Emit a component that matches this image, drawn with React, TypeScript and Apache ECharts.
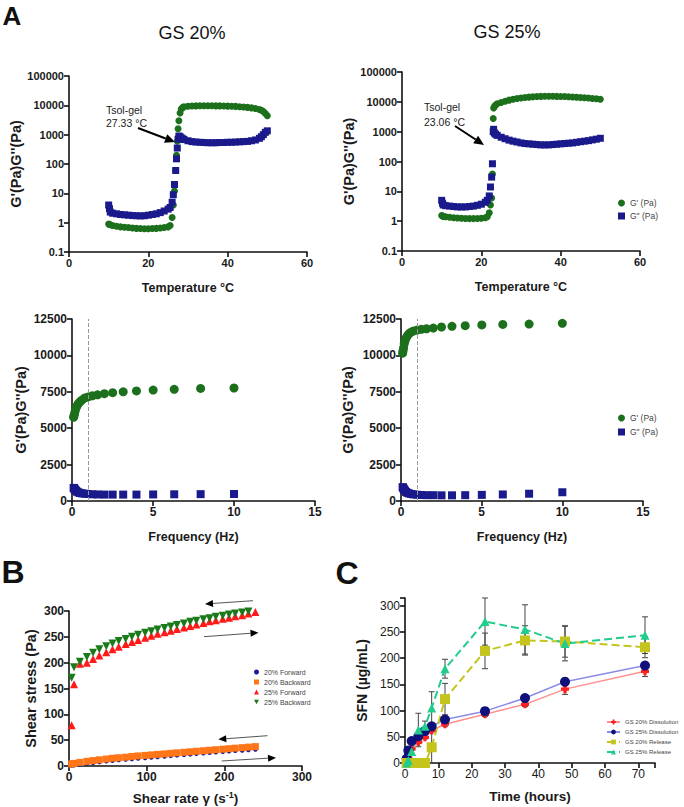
import React, { useEffect, useRef } from 'react';
import * as echarts from 'echarts';

const FONT = '"Liberation Sans", Arial, sans-serif';
const GREEN = '#1c701c';
const NAVY = '#1a1a8c';

// ---- Panel A (temperature sweep) ----
const tempA20 = [10, 10.2, 10.4, 11, 12, 13, 14, 15, 16, 17, 18, 19, 20, 21, 22, 23, 24, 25, 25.5, 26, 26.3, 26.6, 26.9, 27.1, 27.3, 27.5, 27.7, 28, 28.3, 28.7, 29, 30, 31, 32, 33, 34, 35, 36, 37, 38, 39, 40, 41, 42, 43, 44, 45, 46, 47, 48, 48.5, 49, 49.5, 50];
const gp20 = [0.9, 0.87, 0.85, 0.8, 0.76, 0.72, 0.7, 0.68, 0.66, 0.64, 0.63, 0.62, 0.62, 0.63, 0.64, 0.66, 0.68, 0.72, 0.8, 1.5, 4, 12, 60, 200, 600, 1600, 3000, 5500, 7500, 8500, 9000, 9300, 9500, 9600, 9700, 9700, 9700, 9700, 9600, 9600, 9500, 9400, 9300, 9200, 9000, 8800, 8500, 8200, 7800, 7200, 6800, 6200, 5300, 4400];
const gpp20 = [4, 3, 2.3, 2.1, 2.0, 1.9, 1.85, 1.8, 1.75, 1.72, 1.7, 1.72, 1.8, 1.9, 2.0, 2.2, 2.5, 2.9, 3.3, 5, 9, 20, 60, 150, 350, 700, 900, 850, 780, 720, 680, 620, 580, 560, 550, 540, 530, 530, 530, 540, 540, 550, 550, 560, 570, 580, 590, 620, 660, 750, 850, 1000, 1200, 1350];

const tempA25 = [10, 10.2, 10.4, 11, 12, 13, 14, 15, 16, 17, 18, 19, 20, 21, 21.5, 22, 22.3, 22.6, 22.8, 23, 23.1, 23.3, 23.6, 24, 25, 26, 27, 28, 29, 30, 31, 32, 33, 34, 35, 36, 37, 38, 39, 40, 41, 42, 43, 44, 45, 46, 47, 48, 49, 50];
const gp25 = [1.55, 1.5, 1.45, 1.4, 1.35, 1.3, 1.27, 1.25, 1.23, 1.22, 1.22, 1.23, 1.25, 1.3, 1.4, 1.9, 3.5, 6, 38, 2750, 6200, 7000, 7800, 8600, 9500, 10500, 11400, 12200, 12900, 13500, 14000, 14400, 14700, 15000, 15200, 15300, 15300, 15300, 15200, 15100, 15000, 14800, 14600, 14300, 14000, 13700, 13400, 13000, 12600, 12200];
const gpp25 = [5, 4, 3.5, 3.3, 3.2, 3.1, 3.0, 3.0, 3.0, 3.1, 3.2, 3.4, 3.7, 4.3, 5, 7, 14, 30, 84, 1000, 1200, 900, 820, 750, 650, 580, 520, 480, 450, 420, 400, 390, 380, 370, 360, 360, 360, 370, 380, 390, 400, 410, 420, 440, 460, 480, 500, 530, 560, 600];

// ---- Panel A (frequency sweep) ----
const freqs = [0.1, 0.126, 0.158, 0.2, 0.251, 0.316, 0.398, 0.501, 0.631, 0.794, 1, 1.26, 1.58, 2, 2.51, 3.16, 3.98, 5.01, 6.31, 7.94, 10];
const fGp20 = [5750, 5850, 6000, 6200, 6400, 6550, 6700, 6820, 6950, 7080, 7150, 7230, 7290, 7370, 7440, 7500, 7560, 7620, 7670, 7730, 7760];
const fGpp20 = [900, 880, 820, 760, 700, 640, 590, 550, 520, 500, 480, 460, 450, 440, 440, 440, 440, 450, 460, 470, 480];
const fGp25 = [10150, 10300, 10500, 10800, 11000, 11200, 11350, 11500, 11600, 11680, 11740, 11790, 11830, 11880, 11950, 12000, 12040, 12090, 12130, 12150, 12200];
const fGpp25 = [950, 920, 850, 780, 700, 620, 560, 520, 480, 450, 430, 410, 400, 400, 390, 390, 400, 420, 450, 500, 600];

// ---- Panel B ----
const shearB = [3.4, 6.4, 14, 23, 31, 39, 48, 56, 64, 73, 81, 89, 98, 106, 114, 123, 131, 139, 148, 156, 164, 173, 181, 189, 198, 206, 214, 223, 231, 240];
const fwd20 = [1, 1.5, 3, 4.5, 6, 7.5, 9, 10, 11.5, 12.5, 13.5, 14.5, 15.5, 16.5, 17.5, 18.5, 19.5, 20.5, 21.5, 22.5, 23.5, 24.5, 25.5, 26.5, 27.5, 28.5, 29.5, 30, 31, 32];
const bwd20 = [4, 5, 7, 9, 10.5, 12, 13.5, 15, 16, 17, 18.5, 19.5, 20.5, 21.5, 22.5, 23.5, 24.5, 25.5, 26.5, 27.5, 28.5, 29.5, 30.5, 31.5, 32.5, 33.5, 34.5, 35.5, 36.5, 37.5];
const fwd25 = [79, 158, 198, 200, 207, 214, 220, 226, 231, 236, 240, 244, 248, 252, 256, 259, 262, 265, 268, 271, 274, 277, 280, 282, 285, 287, 290, 292, 295, 298];
const bwd25 = [171, 191, 202, 211, 219, 226, 232, 237, 242, 246, 250, 254, 258, 261, 264, 267, 270, 273, 276, 279, 281, 284, 286, 289, 291, 293, 295, 297, 299];

// ---- Panel C ----
const timesC = [0.5, 1, 2, 4, 6, 8, 12, 24, 36, 48, 72];
const dis20 = [6, 10, 27, 40, 49, 62, 74, 93, 112, 141, 175];
const dis20Err = [2, 3, 3, 3, 3, 3, 4, 4, 4, 10, 10];
const dis25 = [8, 24, 42, 51, 61, 70, 83, 99, 124, 155, 186];
const dis25Err = [2, 3, 3, 3, 3, 3, 4, 4, 5, 7, 5];
const rel20 = [0, 0, 0, 0, 0, 30, 122, 214, 234, 232, 221];
const rel20Err = [0, 0, 0, 0, 0, 30, 30, 34, 28, 30, 20];
const rel25 = [0, 5, 22, 63, 70, 105, 180, 270, 255, 228, 244];
const rel25Err = [0, 0, 5, 32, 10, 31, 18, 45, 47, 33, 35];

const zip = (xs: number[], ys: number[]) => ys.map((y, i) => [xs[i], y]);

const axLine = { show: true, onZero: false, lineStyle: { color: '#111', width: 1.6 } };
const axTick = { show: true, length: 5, inside: false, lineStyle: { color: '#111', width: 1.6 } };
const plain = (v: number) => String(v);
const lbl = (size: number, bold = true) => ({ color: '#1a1a1a', fontFamily: FONT, fontSize: size, fontWeight: bold ? 'bold' : 'normal', margin: 5, formatter: plain });
const nameStyle = (size: number) => ({ color: '#1a1a1a', fontFamily: FONT, fontSize: size, fontWeight: 'bold' });

function xAxisCfg(gridIndex: number, min: number, max: number, interval: number, name: string, nameGap: number, lsize: number, bold = true, nsize = 12.5, extra: any = {}) {
  return {
    type: 'value', gridIndex, min, max, interval, name, nameLocation: 'middle', nameGap,
    nameTextStyle: nameStyle(nsize), axisLine: axLine, axisTick: axTick, splitLine: { show: false },
    axisLabel: { ...lbl(lsize, bold), ...(extra.axisLabel || {}) },
  };
}

function arrow(x1: number, y1: number, x2: number, y2: number, color: string, w: number, hl: number, hw: number, lineColor?: string) {
  const dx = x2 - x1, dy = y2 - y1, L = Math.hypot(dx, dy), ux = dx / L, uy = dy / L;
  const bx = x2 - ux * hl, by = y2 - uy * hl;
  return [
    { type: 'line', silent: true, shape: { x1, y1, x2: bx, y2: by }, style: { stroke: lineColor || color, lineWidth: w } },
    { type: 'polygon', silent: true, shape: { points: [[x2, y2], [bx - uy * hw, by + ux * hw], [bx + uy * hw, by - ux * hw]] }, style: { fill: color } },
  ];
}

const txt = (text: string, x: number, y: number, font: string, align = 'center', fill = '#111') => ({
  type: 'text', silent: true, x, y, style: { text, font, fill, textAlign: align, textVerticalAlign: 'middle' },
});

function errSeries(times: number[], vals: number[], errs: number[]) {
  return {
    type: 'custom', xAxisIndex: 5, yAxisIndex: 5, z: 1, silent: true,
    encode: { x: 0, y: [1, 2] },
    data: times.map((t, i) => [t, vals[i] - errs[i], vals[i] + errs[i]]),
    renderItem: (params: any, api: any) => {
      const x = api.value(0), lo = api.value(1), hi = api.value(2);
      if (!(hi - lo > 0)) return { type: 'group', children: [] };
      const p1 = api.coord([x, lo]), p2 = api.coord([x, hi]);
      const w = 3;
      const st = { stroke: '#444', lineWidth: 1 };
      return {
        type: 'group', children: [
          { type: 'line', shape: { x1: p1[0], y1: p1[1], x2: p2[0], y2: p2[1] }, style: st },
          { type: 'line', shape: { x1: p1[0] - w, y1: p1[1], x2: p1[0] + w, y2: p1[1] }, style: st },
          { type: 'line', shape: { x1: p2[0] - w, y1: p2[1], x2: p2[0] + w, y2: p2[1] }, style: st },
        ],
      };
    },
  };
}

const PLUS = 'path://M3,0H7V3H10V7H7V10H3V7H0V3H3Z';
const INV_TRI = 'path://M0,0L10,0L5,9Z';

function buildOption() {
  const logLabel = { ...lbl(11), formatter: (v: number) => (v < 1 ? '0.1' : String(Math.round(v))) };
  const GNAME = "G'(Pa)G''(Pa)";
  const xAxes = [
    xAxisCfg(0, 0, 60, 20, 'Temperature °C', 29, 11),
    xAxisCfg(1, 0, 60, 20, 'Temperature °C', 29, 11),
    xAxisCfg(2, 0, 15, 5, 'Frequency (Hz)', 29, 12),
    xAxisCfg(3, 0, 15, 5, 'Frequency (Hz)', 29, 12),
    { ...xAxisCfg(4, 0, 300, 100, 'Shear rate γ (s{sup|-1})', 24, 12, true, 13.5),
      nameTextStyle: { ...nameStyle(13.5), rich: { sup: { fontFamily: FONT, fontSize: 9, fontWeight: 'bold', color: '#1a1a1a', verticalAlign: 'top', padding: [0, 0, 8, 0] } } } },
    xAxisCfg(5, 0, 75, 10, 'Time (hours)', 26, 12, false, 13.5, { axisLabel: { formatter: (v: number) => (v > 70 ? '' : String(v)) } }),
  ];
  const yAxes = [
    { type: 'log', logBase: 10, gridIndex: 0, min: 0.1, max: 100000, name: GNAME, nameLocation: 'middle', nameGap: 43, nameTextStyle: nameStyle(14.5), axisLine: axLine, axisTick: axTick, splitLine: { show: false }, axisLabel: logLabel },
    { type: 'log', logBase: 10, gridIndex: 1, min: 0.1, max: 100000, name: GNAME, nameLocation: 'middle', nameGap: 43, nameTextStyle: nameStyle(14.5), axisLine: axLine, axisTick: axTick, splitLine: { show: false }, axisLabel: logLabel },
    { type: 'value', gridIndex: 2, min: 0, max: 12500, interval: 2500, name: GNAME, nameLocation: 'middle', nameGap: 44, nameTextStyle: nameStyle(14.5), axisLine: axLine, axisTick: axTick, splitLine: { show: false }, axisLabel: lbl(12) },
    { type: 'value', gridIndex: 3, min: 0, max: 12500, interval: 2500, name: GNAME, nameLocation: 'middle', nameGap: 46, nameTextStyle: nameStyle(14.5), axisLine: axLine, axisTick: axTick, splitLine: { show: false }, axisLabel: lbl(12) },
    { type: 'value', gridIndex: 4, min: 0, max: 300, interval: 50, name: 'Shear stress (Pa)', nameLocation: 'middle', nameGap: 31, nameTextStyle: nameStyle(14.5), axisLine: axLine, axisTick: axTick, splitLine: { show: false }, axisLabel: lbl(12) },
    { type: 'value', gridIndex: 5, min: 0, max: 315, interval: 50, name: 'SFN (µg/mL)', nameLocation: 'middle', nameGap: 36, nameTextStyle: nameStyle(14), axisLine: axLine, axisTick: axTick, splitLine: { show: false }, axisLabel: { ...lbl(12, false), formatter: (v: number) => (v > 300 ? '' : String(v)) } },
  ];
  const grids = [
    { left: 69, top: 76, width: 238, height: 176 },
    { left: 402, top: 72, width: 238, height: 179 },
    { left: 72, top: 319, width: 243, height: 182 },
    { left: 401, top: 319, width: 242, height: 182 },
    { left: 69, top: 611, width: 233, height: 155 },
    { left: 405, top: 598, width: 250, height: 165 },
  ];
  const sc = (name: string, idx: number, xs: number[], ys: number[], symbol: string, size: number, color: string, extra: any = {}) => ({
    type: 'scatter', name, xAxisIndex: idx, yAxisIndex: idx, data: zip(xs, ys), symbol, symbolSize: size,
    itemStyle: { color, opacity: 1 }, ...extra,
  });
  const vline = { markLine: { silent: true, symbol: 'none', label: { show: false }, lineStyle: { color: '#999', type: 'dashed', width: 1 }, data: [{ xAxis: 1 }] } };
  const GP = "G' (Pa)", GPP = 'G" (Pa)';
  const series: any[] = [
    sc(GP, 0, tempA20, gp20, 'circle', 7, GREEN),
    sc(GPP, 0, tempA20, gpp20, 'rect', 7, NAVY),
    sc(GP, 1, tempA25, gp25, 'circle', 7, GREEN),
    sc(GPP, 1, tempA25, gpp25, 'rect', 7, NAVY),
    sc(GP, 2, freqs, fGp20, 'circle', 9, GREEN, vline),
    sc(GPP, 2, freqs, fGpp20, 'rect', 8, NAVY),
    sc(GP, 3, freqs, fGp25, 'circle', 9, GREEN, vline),
    sc(GPP, 3, freqs, fGpp25, 'rect', 8, NAVY),
    sc('20% Forward', 4, shearB, fwd20, 'circle', 4.5, '#1a1a9a'),
    sc('20% Backward', 4, shearB, bwd20, 'rect', 7, '#ff7518'),
    sc('25% Forward', 4, shearB, fwd25, 'triangle', 8, '#ff1a1a'),
    sc('25% Backward', 4, shearB, bwd25, INV_TRI, 8, '#1a7a1a'),
    errSeries(timesC, dis20, dis20Err),
    errSeries(timesC, dis25, dis25Err),
    errSeries(timesC, rel20, rel20Err),
    errSeries(timesC, rel25, rel25Err),
    { type: 'line', name: 'GS 20% Dissolution', xAxisIndex: 5, yAxisIndex: 5, z: 3, data: zip(timesC, dis20), symbol: PLUS, symbolSize: 8, showAllSymbol: true, itemStyle: { color: '#ff1f1f' }, lineStyle: { color: '#ff8f8f', width: 1.5 } },
    { type: 'line', name: 'GS 25% Dissolution', xAxisIndex: 5, yAxisIndex: 5, z: 3, data: zip(timesC, dis25), symbol: 'circle', symbolSize: 10, showAllSymbol: true, itemStyle: { color: '#10107a' }, lineStyle: { color: '#8c8ce6', width: 1.5 } },
    { type: 'line', name: 'GS 20% Release', xAxisIndex: 5, yAxisIndex: 5, z: 3, data: zip(timesC, rel20), symbol: 'rect', symbolSize: 10, showAllSymbol: true, itemStyle: { color: '#c4c41c' }, lineStyle: { color: '#c4c41c', width: 2, type: 'dashed' } },
    { type: 'line', name: 'GS 25% Release', xAxisIndex: 5, yAxisIndex: 5, z: 3, data: zip(timesC, rel25), symbol: 'triangle', symbolSize: 9, showAllSymbol: true, itemStyle: { color: '#22cc8a' }, lineStyle: { color: '#22cc8a', width: 2, type: 'dashed' } },
  ];
  const legText = (size: number) => ({ fontFamily: FONT, fontSize: size, color: '#444', lineHeight: 10 });
  const legends = [
    { data: [GP, GPP], orient: 'vertical', left: 613, top: 193, itemWidth: 7, itemHeight: 7, itemGap: 3, textStyle: legText(8.5), selectedMode: false },
    { data: [GP, GPP], orient: 'vertical', left: 613, top: 408, itemWidth: 7, itemHeight: 7, itemGap: 4, textStyle: legText(8.5), selectedMode: false },
    { data: ['20% Forward', '20% Backward', '25% Forward', '25% Backward'], orient: 'vertical', left: 249, top: 662, itemWidth: 5, itemHeight: 5, itemGap: 0, textStyle: legText(7), selectedMode: false },
    { data: ['GS 20% Dissolution', 'GS 25% Dissolution', 'GS 20% Release', 'GS 25% Release'], orient: 'vertical', left: 606, top: 717, width: 78, itemWidth: 13, itemHeight: 6, itemGap: 0, padding: 0, textStyle: { ...legText(6), width: 60, overflow: 'none' }, selectedMode: false },
  ];
  const graphic: any[] = [
    txt('A', 12, 16, `bold 26px ${FONT}`),
    txt('GS 20%', 192, 33, `18px ${FONT}`),
    txt('GS 25%', 507, 32, `18px ${FONT}`),
    txt('Tsol-gel', 106, 110, `10.5px ${FONT}`, 'left', '#222'),
    txt('27.33 °C', 106, 123, `10.5px ${FONT}`, 'left', '#222'),
    txt('Tsol-gel', 424, 107, `10.5px ${FONT}`, 'left', '#222'),
    txt('23.06 °C', 424, 122, `10.5px ${FONT}`, 'left', '#222'),
    txt('B', 13, 572, `bold 32px ${FONT}`),
    txt('C', 347, 573, `bold 32px ${FONT}`),
    ...arrow(138, 128, 175, 142, '#000', 2, 10, 4.5),
    ...arrow(455, 126, 484, 145, '#000', 2, 10, 4.5),
    ...arrow(253, 600.7, 205, 604, '#000', 1, 8, 3.5, '#555'),
    ...arrow(204, 636.7, 258.5, 632.7, '#000', 1, 8, 3.5, '#555'),
    ...arrow(267.5, 735.7, 218.3, 739.3, '#000', 1, 8, 3.5, '#555'),
    ...arrow(221.7, 761, 276, 757.7, '#000', 1, 8, 3.5, '#555'),
  ];
  return {
    animation: false,
    backgroundColor: '#ffffff',
    grid: grids,
    xAxis: xAxes,
    yAxis: yAxes,
    legend: legends,
    series,
    graphic,
  };
}

export default function App() {
  const ref = useRef<HTMLDivElement>(null);
  useEffect(() => {
    const chart = echarts.init(ref.current as HTMLDivElement, null, { renderer: 'svg' });
    chart.setOption(buildOption() as any);
    return () => chart.dispose();
  }, []);
  return <div ref={ref} style={{ position: 'absolute', left: 0, top: 0, width: 684, height: 807, background: '#fff' }} />;
}
